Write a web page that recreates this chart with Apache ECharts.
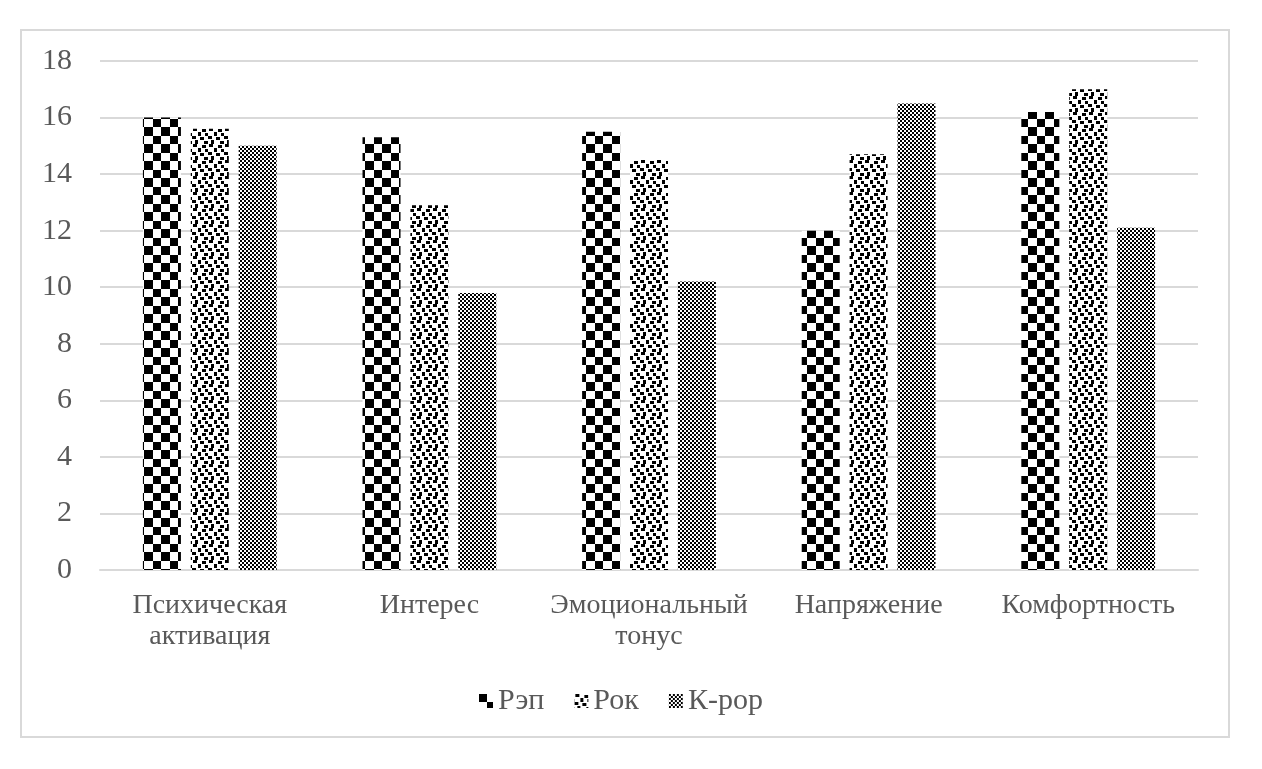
<!DOCTYPE html>
<html>
<head>
<meta charset="utf-8">
<script src="https://cdn.jsdelivr.net/npm/echarts@6/dist/echarts.min.js"></script>
<style>
html,body{margin:0;padding:0;background:#fff;}
#chart{width:1262px;height:769px;}
</style>
</head>
<body>
<div id="chart"></div>
<script>
const categories = ['Психическая\nактивация', 'Интерес', 'Эмоциональный\nтонус', 'Напряжение', 'Комфортность'];
const seriesNames = ['Рэп', 'Рок', 'К-рор'];
const rapValues = [16.0, 15.3, 15.5, 12.0, 16.2];
const rockValues = [15.6, 12.9, 14.5, 14.7, 17.0];
const kpopValues = [15.0, 9.8, 10.2, 16.5, 12.1];
const yTicks = [0, 2, 4, 6, 8, 10, 12, 14, 16, 18];

function makeCanvas(w, h, draw) {
  const c = document.createElement('canvas');
  c.width = w; c.height = h;
  const ctx = c.getContext('2d');
  ctx.fillStyle = '#fff'; ctx.fillRect(0, 0, w, h);
  ctx.fillStyle = '#000';
  draw(ctx);
  return c;
}
// large checkerboard
const rapCanvas = makeCanvas(17, 17, ctx => {
  ctx.fillRect(0, 0, 8, 8);
  ctx.fillRect(8, 8, 9, 9);
});
// large confetti
const confettiBlocks = [[1,0,4,3],[10,1,4,3],[6,4,3,4],[13,5,3,3],[0,8,4,3],[8,9,4,3],[3,12,3,4],[12,13,4,3]];
const rockCanvas = makeCanvas(16, 16, ctx => {
  confettiBlocks.forEach(b => ctx.fillRect(b[0], b[1], b[2], b[3]));
});
// small checkerboard
const kpopCanvas = makeCanvas(4, 4, ctx => {
  ctx.fillRect(0, 0, 2, 2);
  ctx.fillRect(2, 2, 2, 2);
});
const patterns = [rapCanvas, rockCanvas, kpopCanvas];
const values = [rapValues, rockValues, kpopValues];

const chart = echarts.init(document.getElementById('chart'), null, {renderer: 'canvas'});
const font = 'Liberation Serif';
const textColor = '#595959';

chart.setOption({
  animation: false,
  backgroundColor: '#fff',
  textStyle: {fontFamily: font, color: textColor},
  graphic: [{
    type: 'rect',
    shape: {x: 21, y: 30, width: 1208, height: 707},
    style: {fill: 'none', stroke: '#d9d9d9', lineWidth: 2},
    silent: true
  }],
  legend: {
    data: seriesNames,
    left: 474,
    top: 681,
    itemWidth: 14,
    itemHeight: 14,
    itemGap: 30,
    formatter: '{t|{name}}',
    textStyle: {
      fontFamily: font, fontSize: 30, color: textColor,
      rich: {t: {fontFamily: font, fontSize: 30, color: textColor}}
    },
    icon: 'rect'
  },
  grid: {left: 100, right: 64, top: 61, bottom: 199, containLabel: false},
  xAxis: {
    type: 'category',
    data: categories,
    axisLine: {lineStyle: {color: '#d9d9d9', width: 2}},
    axisTick: {show: false},
    axisLabel: {fontFamily: font, fontSize: 28, color: textColor, margin: 20, lineHeight: 31, interval: 0}
  },
  yAxis: {
    type: 'value',
    min: yTicks[0],
    max: yTicks[yTicks.length - 1],
    interval: 2,
    axisLine: {show: false},
    axisTick: {show: false},
    splitLine: {lineStyle: {color: '#d9d9d9', width: 2}},
    axisLabel: {fontFamily: font, fontSize: 30, color: textColor, margin: 28}
  },
  series: seriesNames.map((name, i) => ({
    name: name,
    type: 'bar',
    data: values[i],
    barWidth: 38,
    barGap: '26%',
    itemStyle: {color: {image: patterns[i], repeat: 'repeat'}}
  }))
});
</script>
</body>
</html>
